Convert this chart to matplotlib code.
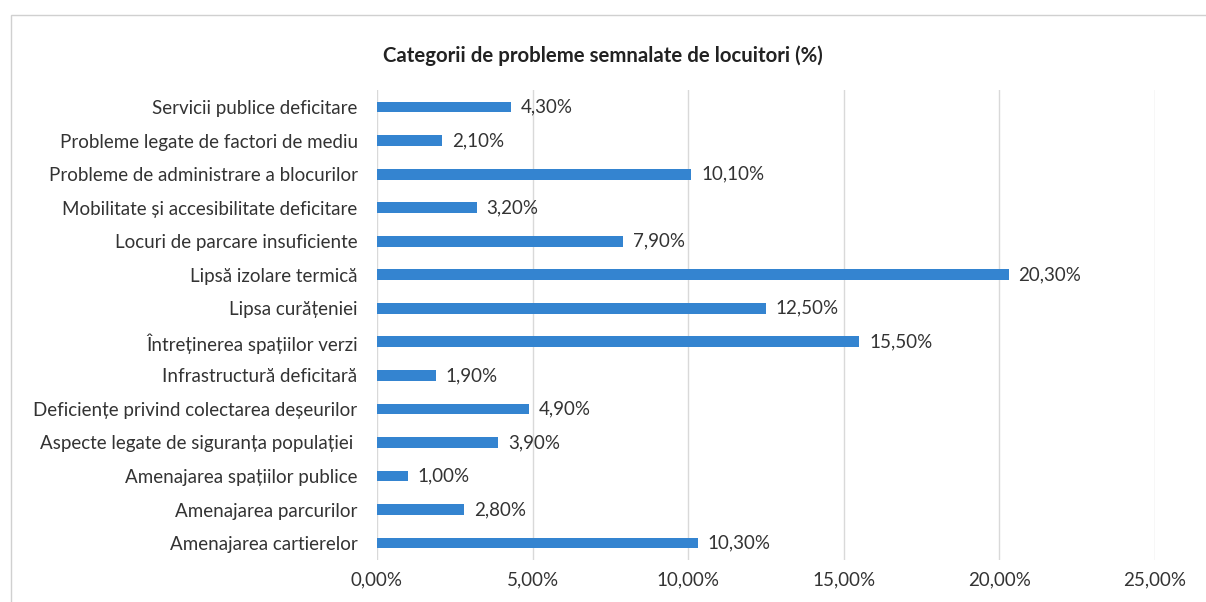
import matplotlib.pyplot as plt
import matplotlib.ticker as mticker
from matplotlib.patches import Rectangle

plt.rcParams['font.family'] = ['Lato', 'DejaVu Sans']

# categorii, de jos in sus (ordinea din Excel)
categorii = [
    'Amenajarea cartierelor',
    'Amenajarea parcurilor',
    'Amenajarea spațiilor publice',
    'Aspecte legate de siguranța populației ',
    'Deficiențe privind colectarea deșeurilor',
    'Infrastructură deficitară',
    'Întreținerea spațiilor verzi',
    'Lipsa curățeniei',
    'Lipsă izolare termică',
    'Locuri de parcare insuficiente',
    'Mobilitate și accesibilitate deficitare',
    'Probleme de administrare a blocurilor',
    'Probleme legate de factori de mediu',
    'Servicii publice deficitare',
]
procente = [10.3, 2.8, 1.0, 3.9, 4.9, 1.9, 15.5, 12.5, 20.3, 7.9, 3.2, 10.1, 2.1, 4.3]
ticks_x = [0, 5, 10, 15, 20, 25]

culoare = '#3484d0'
text_c = '#333333'
fs = 13.5

fig = plt.figure(figsize=(12.06, 6.02), dpi=100)
ax = fig.add_axes([0.3126, 0.070, 0.6451, 0.780])

y = range(len(categorii))
ax.barh(y, procente, height=0.32, color=culoare, zorder=3)

for yi, v in zip(y, procente):
    ax.annotate(f'{v:.2f}%'.replace('.', ','), (v, yi), xytext=(7, 0),
                textcoords='offset points', va='center', ha='left',
                fontsize=fs, color=text_c)

ax.set_yticks(list(y))
ax.set_yticklabels(categorii, fontsize=fs, color=text_c)
ax.set_ylim(-0.5, len(categorii) - 0.5)

ax.set_xlim(0, 25)
ax.set_xticks(ticks_x)
ax.xaxis.set_major_formatter(mticker.FuncFormatter(lambda v, p: f'{v:.2f}%'.replace('.', ',')))
ax.tick_params(axis='x', labelsize=fs, colors=text_c, length=0, pad=8)
ax.tick_params(axis='y', length=0, pad=14)

ax.grid(axis='x', color='#d9d9d9', linewidth=1, zorder=0)
for s in ax.spines.values():
    s.set_visible(False)

fig.text(0.5, 0.908, 'Categorii de probleme semnalate de locuitori (%)',
         ha='center', va='center', fontsize=14.7, fontweight='bold', color='#222222')

# chenarul zonei graficului
fig.add_artist(Rectangle((0.009, -0.01), 1.0, 0.985, transform=fig.transFigure,
                         fill=False, edgecolor='#d0d0d0', linewidth=1))

fig.savefig('out.png', dpi=100, facecolor='white')
